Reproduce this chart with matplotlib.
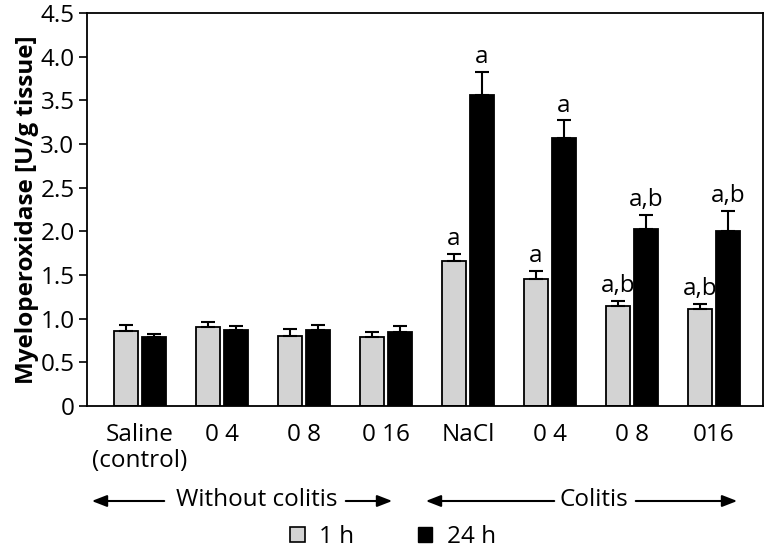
import matplotlib
matplotlib.use("Agg")
from matplotlib import pyplot as plt
from matplotlib.patches import Patch
import numpy as np

plt.rcParams['font.family'] = ['Open Sans', 'DejaVu Sans']

groups = ['Saline\n(control)', '0 4', '0 8', '0 16', 'NaCl', '0 4', '0 8', '016']
h1 = [0.86, 0.90, 0.80, 0.79, 1.66, 1.45, 1.15, 1.11]
h1_err = [0.07, 0.06, 0.08, 0.06, 0.08, 0.10, 0.05, 0.06]
h24 = [0.79, 0.87, 0.87, 0.85, 3.56, 3.07, 2.03, 2.00]
h24_err = [0.04, 0.05, 0.06, 0.07, 0.27, 0.20, 0.16, 0.23]
h1_marks = ['', '', '', '', 'a', 'a', 'a,b', 'a,b']
h24_marks = ['', '', '', '', 'a', 'a', 'a,b', 'a,b']

fs = 17.5
fig = plt.figure(figsize=(7.65, 5.48), dpi=100)
ax = fig.add_axes([87/765, 1-406/548, 676/765, 393/548])

x = np.arange(len(groups))
off = 0.17
w = 0.3
ax.bar(x-off, h1, w, color='#d3d3d3', edgecolor='black', linewidth=1.3,
       yerr=[np.zeros(len(x)), h1_err], capsize=5,
       error_kw=dict(elinewidth=1.5, capthick=1.5, ecolor='black'))
ax.bar(x+off, h24, w, color='black', edgecolor='black', linewidth=1.3,
       yerr=[np.zeros(len(x)), h24_err], capsize=5,
       error_kw=dict(elinewidth=1.5, capthick=1.5, ecolor='black'))

for i in range(len(x)):
    if h1_marks[i]:
        ax.annotate(h1_marks[i], (x[i]-off, h1[i]+h1_err[i]), xytext=(0, 2),
                    textcoords='offset points', ha='center', va='bottom', fontsize=fs)
    if h24_marks[i]:
        ax.annotate(h24_marks[i], (x[i]+off, h24[i]+h24_err[i]), xytext=(0, 2),
                    textcoords='offset points', ha='center', va='bottom', fontsize=fs)

ax.set_xlim(-0.646, 7.598)
ax.set_ylim(0, 4.5)
ax.set_yticks(np.arange(0, 4.51, 0.5))
ax.set_yticklabels(['0'] + ['%.1f' % v for v in np.arange(0.5, 4.51, 0.5)])
ax.set_xticks(x)
ax.set_xticklabels(groups, fontsize=fs, linespacing=1.15)
ax.tick_params(axis='x', length=0, pad=12)
ax.tick_params(axis='y', direction='out', length=6, width=1.2, labelsize=fs, pad=3)
for s in ax.spines.values():
    s.set_linewidth(1.3)
ax.set_ylabel('Myeloperoxidase [U/g tissue]', fontsize=fs, fontweight='bold', labelpad=1)

# group arrows below the axis
def px(xp, yp):
    return (xp/765, 1-yp/548)

arrow = dict(arrowstyle='-|>,head_length=0.9,head_width=0.35', color='black', lw=1.5)
fig.text(*px(257, 500), 'Without colitis', ha='center', va='center', fontsize=fs)
ax.annotate('', xy=px(89, 501), xytext=px(167, 501), xycoords='figure fraction',
            textcoords='figure fraction', arrowprops=arrow, annotation_clip=False)
ax.annotate('', xy=px(395, 501), xytext=px(343, 501), xycoords='figure fraction',
            textcoords='figure fraction', arrowprops=arrow, annotation_clip=False)
fig.text(*px(594, 500), 'Colitis', ha='center', va='center', fontsize=fs)
ax.annotate('', xy=px(423, 501), xytext=px(557, 501), xycoords='figure fraction',
            textcoords='figure fraction', arrowprops=arrow, annotation_clip=False)
ax.annotate('', xy=px(740, 501), xytext=px(633, 501), xycoords='figure fraction',
            textcoords='figure fraction', arrowprops=arrow, annotation_clip=False)

# legend
handles = [Patch(facecolor='#d3d3d3', edgecolor='black', linewidth=1.2, label='1 h'),
           Patch(facecolor='black', edgecolor='black', label='24 h')]
fig.legend(handles=handles, loc='center', bbox_to_anchor=px(393, 537), ncol=2,
           frameon=False, fontsize=fs, handlelength=0.6, handleheight=0.6,
           handletextpad=0.6, columnspacing=2.6)

fig.savefig('out.png', dpi=100)
